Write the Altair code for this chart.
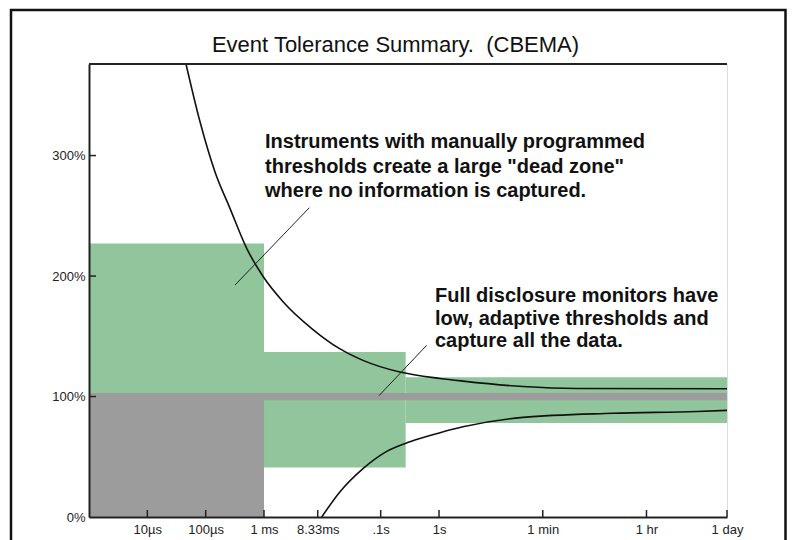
import altair as alt
import pandas as pd

# ---- data ----
tick_values = [1e-5, 1e-4, 1e-3, 8.33e-3, 0.1, 1, 60, 3600, 86400]
tick_labels = ["10µs", "100µs", "1 ms", "8.33ms", ".1s", "1s", "1 min", "1 hr", "1 day"]
y_ticks = [0, 100, 200, 300]

# green tolerance bands (seconds, percent)
green_start = [1e-6, 1e-3, 0.268]
green_end = [1e-3, 0.268, 86400]
green_low = [103, 41, 78]
green_high = [227, 137, 116]

# grey "dead zone" areas
grey_start = [1e-6, 1e-3]
grey_end = [1e-3, 86400]
grey_low = [0, 97]
grey_high = [103, 103]

# upper and lower curves
upper_t = [4.6e-5, 8.0e-5, 1.44e-4, 2.61e-4, 5.05e-4, 9.72e-4, 2.14e-3, 6.91e-3,
           0.0201, 0.0497, 0.214, 1.04, 2.57, 27.5, 232, 86400]
upper_p = [376, 328, 286.6, 256.2, 223, 199.4, 178.5, 155.6,
           139.5, 130.0, 120.3, 115.0, 112.8, 108.3, 106.7, 106.5]
lower_t = [9.75e-3, 0.0201, 0.0503, 0.127, 0.318, 1.04, 2.57, 27.5, 959, 26400, 86400]
lower_p = [0, 21, 40.4, 54.5, 62.5, 70.0, 74.9, 82.7, 86.1, 87.6, 88.5]

# pointer lines
ptr_t0 = [3.18e-4, 0.0935]
ptr_p0 = [192.5, 100.7]
ptr_t1 = [5.98e-3, 0.614]
ptr_p1 = [256.7, 142.5]

# annotations
ann_text = ["Instruments with manually programmed",
            'thresholds create a large "dead zone"',
            "where no information is captured.",
            "Full disclosure monitors have",
            "low, adaptive thresholds and",
            "capture all the data."]
ann_t = [1.04e-3, 1.04e-3, 1.04e-3, 0.853, 0.853, 0.853]
ann_p = [306.2, 285.9, 265.6, 178.7, 159.3, 141.1]

title_text = "Event Tolerance Summary.\u00a0 (CBEMA)"

# ---- chart ----
W, H = 638, 453
PAD_R = 60
GREEN = "#91c59b"
GREY = "#9c9c9c"
FONT = "Liberation Sans"

xscale = alt.Scale(type="log", domain=[1e-6, 86400], nice=False)
yscale = alt.Scale(domain=[0, 376], nice=False, zero=False)

label_expr = "[" + ",".join("'%s'" % s for s in tick_labels) + "][indexof([" + \
    ",".join(repr(v) for v in tick_values) + "], datum.value)]"

xaxis = alt.Axis(values=tick_values, labelExpr=label_expr, tickSize=0, labelPadding=6,
                 domainColor="#222", domainWidth=2, labelFont=FONT, labelFontSize=13,
                 labelColor="#222", grid=False, title=None, zindex=1, labelAngle=0,
                 labelOverlap=False, labelFlush=False)
yaxis = alt.Axis(values=y_ticks, labelExpr="datum.value + '%'", tickSize=0, labelPadding=4,
                 domainColor="#222", domainWidth=2, labelFont=FONT, labelFontSize=13,
                 labelColor="#222", grid=False, title=None, zindex=1, labelFlush=False)

df_green = pd.DataFrame({"t0": green_start, "t1": green_end, "lo": green_low, "hi": green_high})
df_grey = pd.DataFrame({"t0": grey_start, "t1": grey_end, "lo": grey_low, "hi": grey_high})
df_up = pd.DataFrame({"t": upper_t, "p": upper_p})
df_lo = pd.DataFrame({"t": lower_t, "p": lower_p})
df_ptr = pd.DataFrame({"t0": ptr_t0, "p0": ptr_p0, "t1": ptr_t1, "p1": ptr_p1})
df_ann = pd.DataFrame({"t": ann_t, "p": ann_p, "s": ann_text})
df_xt = pd.DataFrame({"t": tick_values})
df_yt = pd.DataFrame({"p": y_ticks[1:]})
df_one = pd.DataFrame({"a": [0]})


def X(f):
    return alt.X(f, type="quantitative", scale=xscale, axis=xaxis)


def Y(f):
    return alt.Y(f, type="quantitative", scale=yscale, axis=yaxis)


green = alt.Chart(df_green).mark_rect(color=GREEN).encode(
    x=X("t0"), x2="t1", y=Y("lo"), y2="hi")
grey = alt.Chart(df_grey).mark_rect(color=GREY).encode(
    x=X("t0"), x2="t1", y=Y("lo"), y2="hi")
upper = alt.Chart(df_up).mark_line(color="#111", strokeWidth=1.6, interpolate="monotone",
                                   clip=True).encode(x=X("t"), y=Y("p"))
lower = alt.Chart(df_lo).mark_line(color="#111", strokeWidth=1.6, interpolate="monotone",
                                   clip=True).encode(x=X("t"), y=Y("p"))
ptr = alt.Chart(df_ptr).mark_rule(color="#222", strokeWidth=1).encode(
    x=X("t0"), y=Y("p0"), x2="t1", y2="p1")
ann = alt.Chart(df_ann).mark_text(align="left", baseline="alphabetic", font=FONT,
                                  fontSize=20, fontWeight="bold", color="#111").encode(
    x=X("t"), y=Y("p"), text="s:N")
xt = alt.Chart(df_xt).mark_rule(color="#222", strokeWidth=1.5).encode(
    x=X("t"), y=alt.value(H - 7), y2=alt.value(H))
yt = alt.Chart(df_yt).mark_rule(color="#222", strokeWidth=1.5).encode(
    y=Y("p"), x=alt.value(0), x2=alt.value(7))
top = alt.Chart(df_one).mark_rule(color="#222", strokeWidth=2).encode(
    x=alt.value(0), x2=alt.value(W), y=alt.value(0))
frame = alt.Chart(df_one).mark_rect(fillOpacity=0, stroke="#111", strokeWidth=2.5).encode(
    x=alt.value(-78), x2=alt.value(W + PAD_R - 1.5), y=alt.value(-54), y2=alt.value(H + 60))
title = alt.Chart(df_one).mark_text(align="center", baseline="alphabetic", font=FONT,
                                    fontSize=22, color="#111").encode(
    x=alt.value(306.5), y=alt.value(-12), text=alt.value(title_text))

chart = alt.layer(green, grey, upper, lower, ptr, xt, yt, top, ann, title, frame).properties(
    width=W, height=H,
    autosize=alt.AutoSizeParams(type="none"),
    padding={"left": 81, "top": 56, "right": PAD_R, "bottom": 24},
).configure_view(stroke="#777", strokeWidth=1).configure(font=FONT, background="white")

chart.save("out.html", embed_options={"renderer": "svg", "actions": False})
